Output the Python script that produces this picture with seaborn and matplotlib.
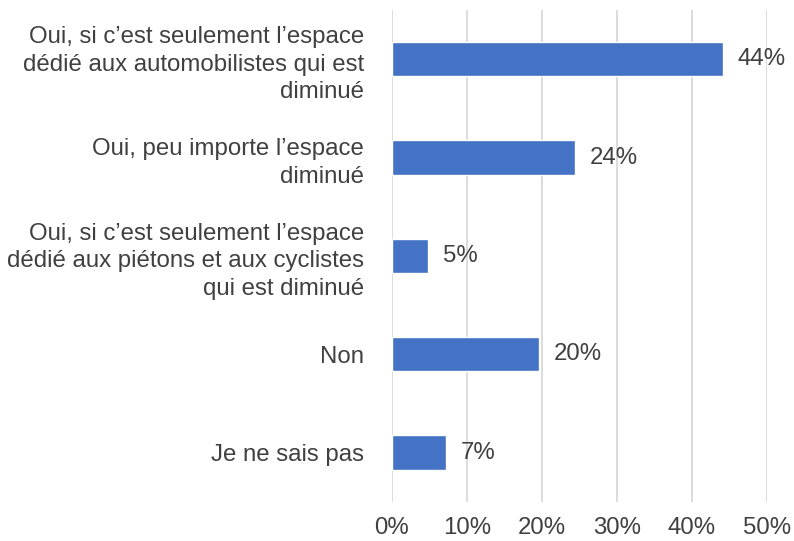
import pandas as pd
import matplotlib
matplotlib.use("Agg")
import matplotlib.pyplot as plt
import seaborn as sns

# Survey answers (top to bottom) and share of respondents (%)
categories = [
    "Oui, si c\u2019est seulement l\u2019espace\nd\u00e9di\u00e9 aux automobilistes qui est\ndiminu\u00e9",
    "Oui, peu importe l\u2019espace\ndiminu\u00e9",
    "Oui, si c\u2019est seulement l\u2019espace\nd\u00e9di\u00e9 aux pi\u00e9tons et aux cyclistes\nqui est diminu\u00e9",
    "Non",
    "Je ne sais pas",
]
values = [44.1, 24.4, 4.8, 19.6, 7.2]
value_labels = ["44%", "24%", "5%", "20%", "7%"]
x_ticks = [0, 10, 20, 30, 40, 50]

df = pd.DataFrame({"categorie": categories, "pct": values})

sns.set_theme(style="white")
plt.rcParams["font.family"] = ["Liberation Sans", "DejaVu Sans"]

text_color = "#404040"
fs = 17.3
fig = plt.figure(figsize=(7.94, 5.41), dpi=100)
ax = fig.add_axes([0.4937, 0.0725, 0.4723, 0.909])

sns.barplot(data=df, x="pct", y="categorie", color="#4472C4", saturation=1,
            width=0.35, ax=ax, zorder=3)

# value labels next to each bar
for i, (v, lab) in enumerate(zip(values, value_labels)):
    ax.text(v + 2.0, i, lab, va="center", ha="left", fontsize=fs, color=text_color)

ax.set_xlim(0, 50)
ax.set_xticks(x_ticks)
ax.set_xticklabels([f"{t}%" for t in x_ticks])
ax.xaxis.grid(True, color="#D9D9D9", linewidth=1.3, zorder=0)
ax.set_xlabel("")
ax.set_ylabel("")
for s in ax.spines.values():
    s.set_visible(False)
ax.tick_params(axis="x", length=0, labelsize=fs, labelcolor=text_color, pad=11)
ax.tick_params(axis="y", length=0, labelsize=fs, labelcolor=text_color, pad=20)
for t in ax.get_yticklabels():
    t.set_linespacing(1.34)
    t.set_multialignment("right")

fig.savefig("out.png", dpi=100)
